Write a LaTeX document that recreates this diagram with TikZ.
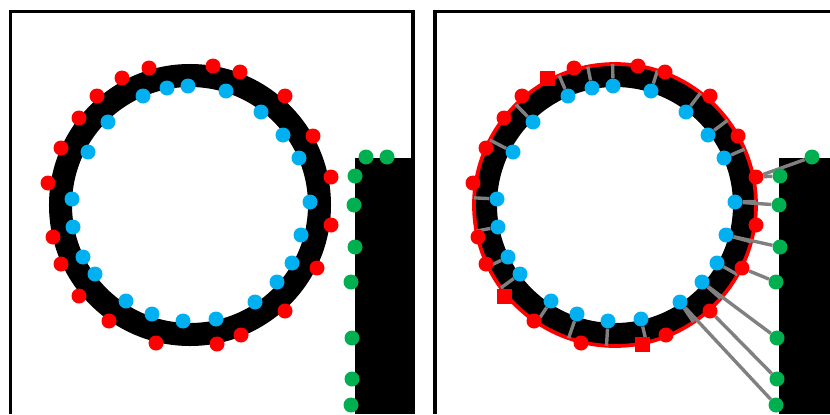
\documentclass[tikz,border=0pt]{standalone}
\usetikzlibrary{calc,backgrounds}
\definecolor{dotred}{RGB}{255,0,0}
\definecolor{dotblue}{RGB}{0,176,240}
\definecolor{dotgreen}{RGB}{0,176,80}
\tikzset{
    reddot/.style={circle, fill=dotred, inner sep=0pt, minimum size=0.45cm},
    redsq/.style={rectangle, fill=dotred, inner sep=0pt, minimum size=0.45cm},
    bluedot/.style={circle, fill=dotblue, inner sep=0pt, minimum size=0.45cm},
    greendot/.style={circle, fill=dotgreen, inner sep=0pt, minimum size=0.45cm},
    link/.style={draw=gray, line width=2.9pt},
    panel/.style={draw=black, line width=3pt}
}
\begin{document}
\begin{tikzpicture}[x=0.03cm, y=-0.03cm]
    \useasboundingbox (0,0) rectangle (830,414);
    % 1. Tâm của hai vòng tròn
    \coordinate (O1) at (190,205);
    \coordinate (O2) at (615,205);

    % 2. Khung, vành đen và khối đen (lớp nền)
    \begin{scope}[on background layer]
        \draw[panel] (10.5,414) -- (10.5,11.5) -- (413,11.5) -- (413,414);
        \draw[panel] (435,414) -- (435,11.5) -- (830,11.5);
        \fill[black] (355,158) rectangle (414,414);
        \fill[black] (779,158) rectangle (830,414);
        \draw[black, line width=0.69cm] (O1) circle (3.885cm);
        \draw[black, line width=0.69cm] (O2) circle (3.885cm);
        \draw[dotred, line width=3.2pt] (O2) circle (4.23cm);
    \end{scope}

    % 3. Các điểm đỏ ở mép ngoài
    \foreach \x/\y [count=\i] in {149/68, 213/66, 240/72, 97/96, 285/96, 79/118,
        313/136, 61/148, 331/177, 48/183, 331/225, 53/237, 61/264, 317/268,
        285/311, 109/321, 241/335, 156/343} {
        \node[reddot] (rl\i) at (\x,\y) {};
        \node[reddot] (rr\i) at (\x+425,\y) {};
    }
    \foreach \x/\y [count=\i] in {122/78, 79/296, 217/344} {
        \node[reddot] (sl\i) at (\x,\y) {};
        \node[redsq] (sr\i) at (\x+425,\y) {};
    }

    % 4. Các điểm xanh ở mép trong
    \foreach \x/\y [count=\i] in {188/86, 167/88, 226/91, 143/96, 261/112,
        108/122, 283/135, 88/152, 299/158, 310/202, 72/199, 73/227, 301/235,
        83/257, 292/263, 95/274, 277/282, 126/301, 255/302, 152/314, 183/321,
        216/319} {
        \node[bluedot] (bl\i) at (\x,\y) {};
        \node[bluedot] (br\i) at (\x+425,\y) {};
    }

    % 5. Các điểm lục trên khối đen
    \foreach \x/\y [count=\i] in {366/157, 387/157, 355/176, 354/205, 355/247,
        351/282, 352/338, 352/379, 351/405} {
        \node[greendot] (gl\i) at (\x,\y) {};
    }
    \foreach \x/\y [count=\i from 2] in {387/157, 355/176, 354/205, 355/247,
        351/282, 352/338, 352/379, 351/405} {
        \node[greendot] (gr\i) at (\x+425,\y) {};
    }

    % 6. Các đoạn nối màu xám (hình bên phải)
    \begin{scope}[on background layer]
        \foreach \i in {1,...,22} {
            \draw[link] (br\i) -- ($(O2)!4.23cm!(br\i)$);
        }
        \draw[link] (rr9) -- (gr2);
        \draw[link] (rr9) -- (gr3);
        \draw[link] (br10) -- (gr4);
        \draw[link] (br13) -- (gr5);
        \draw[link] (rr14) -- (gr6);
        \draw[link] (br17) -- (gr7);
        \draw[link] (rr15) -- (gr8);
        \draw[link] (br19) -- (gr9);
    \end{scope}
\end{tikzpicture}
\end{document}
